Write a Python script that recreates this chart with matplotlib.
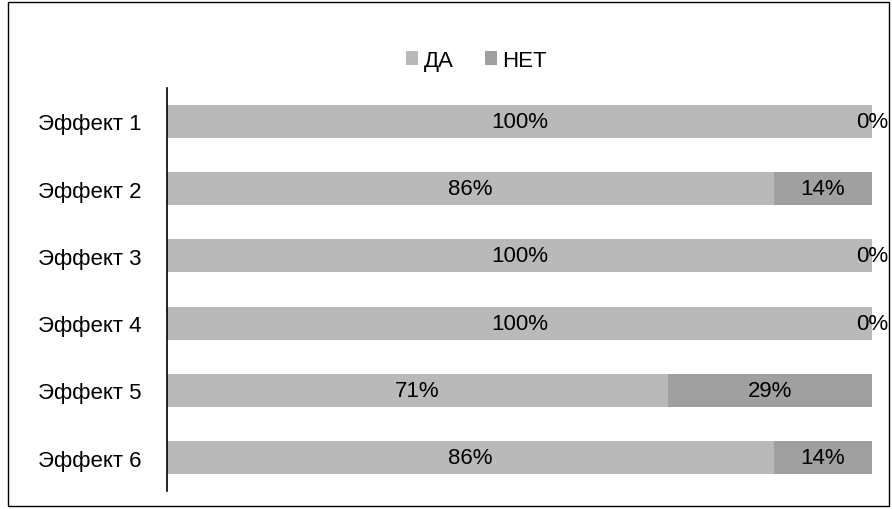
import matplotlib
matplotlib.use("Agg")
import matplotlib.pyplot as plt
from matplotlib.patches import Rectangle

plt.rcParams['font.family'] = ['Liberation Sans', 'DejaVu Sans']

categories = ["Эффект 1", "Эффект 2", "Эффект 3", "Эффект 4", "Эффект 5", "Эффект 6"]
yes_vals = [100, 86, 100, 100, 71, 86]
no_vals = [0, 14, 0, 0, 29, 14]
series_names = ["ДА", "НЕТ"]
colors = ["#b9b9b9", "#a0a0a0"]

fig = plt.figure(figsize=(8.92, 5.10), dpi=100)
ax = fig.add_axes([0.187, 0.035, 0.791, 0.791])

y = list(range(len(categories)))
b1 = ax.barh(y, yes_vals, height=0.49, color=colors[0], label=series_names[0])
b2 = ax.barh(y, no_vals, left=yes_vals, height=0.49, color=colors[1], label=series_names[1])

for i in y:
    ax.text(yes_vals[i] / 2, i, f"{yes_vals[i]}%", ha="center", va="center", fontsize=16)
    ax.text(yes_vals[i] + no_vals[i] / 2, i, f"{no_vals[i]}%", ha="center", va="center", fontsize=16)

ax.set_xlim(0, 100)
ax.set_ylim(len(categories) - 0.5, -0.5)
ax.set_yticks(y)
ax.set_yticklabels(categories, fontsize=16)
ax.tick_params(axis='y', length=0, pad=18)
ax.set_xticks([])
for s in ["top", "right", "bottom"]:
    ax.spines[s].set_visible(False)
ax.spines["left"].set_linewidth(1.2)

fig.legend(handles=[b1, b2], labels=series_names, loc="center", bbox_to_anchor=(0.534, 0.880),
           ncol=2, frameon=False, fontsize=16, handlelength=0.55, handleheight=0.55,
           handletextpad=0.25, columnspacing=1.4)

fig.patches.append(Rectangle((0.009, 0.006), 0.988, 0.988, transform=fig.transFigure,
                             fill=False, edgecolor="black", linewidth=1))

fig.savefig("out.png", dpi=100)
